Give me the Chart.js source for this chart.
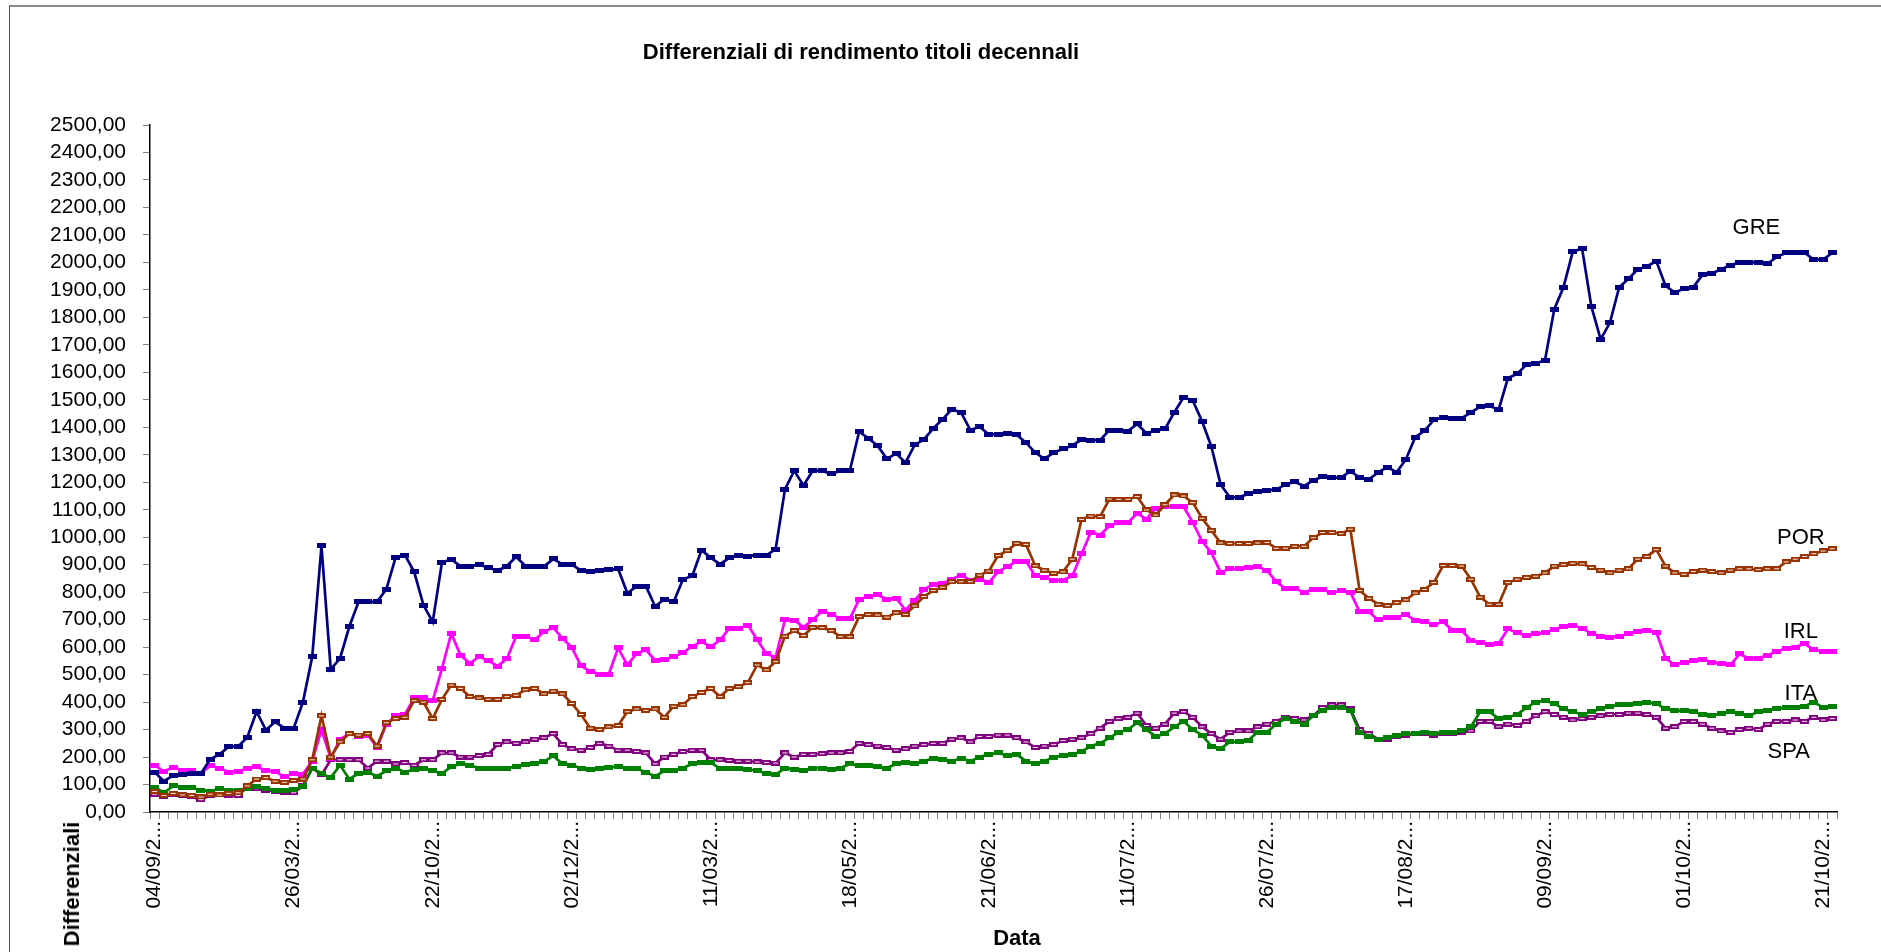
<!DOCTYPE html>
<html>
<head>
<meta charset="utf-8">
<title>Differenziali di rendimento titoli decennali</title>
<script src="https://cdn.jsdelivr.net/npm/chart.js@4.4.1/dist/chart.umd.min.js"></script>
<style>
	html, body { margin: 0; padding: 0; background: #fff; }
	body { width: 1881px; height: 952px; position: relative; overflow: hidden; font-family: Arial, "Liberation Sans", sans-serif; }
	#frame { position: absolute; left: 9px; top: 5px; right: -10px; bottom: -10px; border-top: 2px solid #8c8c8c; border-left: 1px solid #4d4d4d; }
	#graph { position: absolute; left: 0; top: 0; }
	.txt { position: absolute; color: #000; font-weight: bold; font-size: 22px; white-space: nowrap; }
	#title { left: 861px; top: 52px; transform: translate(-50%, -50%); }
	#xtitle { left: 1017px; top: 938px; transform: translate(-50%, -50%); }
	#ytitle { left: 72px; top: 884px; transform: translate(-50%, -50%) rotate(-90deg); }
</style>
</head>
<body>
<div id="frame"></div>
<canvas id="graph" width="1881" height="952"></canvas>
<div class="txt" id="title">Differenziali di rendimento titoli decennali</div>
<div class="txt" id="xtitle">Data</div>
<div class="txt" id="ytitle">Differenziali</div>
<script>
"use strict";

// date labels shown every 15 observations (Excel truncates them)
const tickLabels = [
	"04/09/2...", "26/03/2...", "22/10/2...", "02/12/2...", "11/03/2...", "18/05/2...", "21/06/2...",
	"11/07/2...", "26/07/2...", "17/08/2...", "09/09/2...", "01/10/2...", "21/10/2...",
];
const labelEvery = 15;

const seriesNames = ["GRE", "POR", "IRL", "ITA", "SPA"];

const GRE = [
	145, 112, 133, 137, 140, 140, 192, 210, 238, 238, 272, 366, 298, 328, 305,
	305, 400, 565, 968, 519, 559, 674, 765, 765, 765, 811, 927, 935, 874, 753,
	692, 909, 919, 895, 895, 900, 890, 878, 895, 929, 895, 893, 893, 921, 901,
	901, 878, 874, 880, 881, 885, 796, 822, 822, 748, 775, 765, 847, 859, 953,
	925, 902, 925, 935, 931, 935, 935, 956, 1174, 1242, 1188, 1242, 1242, 1230, 1242,
	1242, 1384, 1360, 1333, 1285, 1305, 1271, 1336, 1356, 1396, 1429, 1465, 1454, 1390, 1402,
	1374, 1374, 1377, 1373, 1344, 1308, 1285, 1308, 1321, 1333, 1356, 1353, 1353, 1390, 1388,
	1386, 1412, 1378, 1388, 1394, 1454, 1509, 1497, 1422, 1330, 1192, 1145, 1145, 1158, 1167,
	1171, 1173, 1192, 1201, 1186, 1207, 1220, 1217, 1217, 1240, 1217, 1211, 1236, 1255, 1236,
	1284, 1364, 1387, 1427, 1437, 1433, 1433, 1453, 1475, 1478, 1464, 1579, 1594, 1628, 1632,
	1644, 1830, 1910, 2040, 2050, 1840, 1720, 1780, 1910, 1940, 1975, 1985, 2005, 1915, 1890,
	1905, 1910, 1955, 1960, 1975, 1990, 2000, 2000, 2000, 1995, 2020, 2035, 2035, 2035, 2010,
	2010, 2035,
];

const POR = [
	75, 60, 68, 62, 60, 55, 65, 62, 68, 70, 95, 120, 125, 112, 108,
	115, 120, 190, 350, 200, 255, 285, 280, 285, 240, 325, 340, 345, 405, 400,
	340, 410, 462, 450, 420, 415, 410, 410, 420, 425, 445, 450, 430, 440, 430,
	395, 355, 305, 300, 310, 315, 365, 375, 370, 375, 345, 385, 390, 420, 435,
	450, 420, 450, 456, 471, 535, 517, 547, 640, 660, 642, 672, 671, 660, 638,
	638, 711, 719, 717, 709, 725, 719, 750, 784, 806, 818, 838, 838, 838, 862,
	877, 933, 951, 978, 974, 896, 880, 869, 874, 920, 1065, 1077, 1075, 1139, 1138,
	1138, 1148, 1099, 1081, 1118, 1154, 1150, 1126, 1069, 1025, 979, 977, 977, 977, 979,
	981, 960, 960, 967, 967, 998, 1017, 1017, 1013, 1029, 806, 778, 756, 751, 762,
	772, 797, 810, 835, 897, 897, 895, 847, 782, 756, 756, 835, 847, 854, 858,
	870, 895, 900, 905, 903, 890, 880, 870, 880, 885, 920, 930, 955, 895, 870,
	865, 875, 880, 875, 870, 880, 885, 885, 882, 885, 885, 910, 920, 930, 940,
	950, 958,
];

const IRL = [
	170, 148, 162, 152, 150, 140, 168, 160, 145, 148, 158, 165, 150, 148, 128,
	140, 138, 185, 300, 195, 265, 285, 275, 280, 235, 320, 350, 355, 415, 415,
	405, 523, 650, 571, 541, 565, 551, 531, 557, 640, 640, 626, 656, 671, 632,
	599, 532, 511, 502, 502, 597, 535, 577, 590, 552, 554, 565, 580, 603, 620,
	601, 626, 668, 668, 680, 628, 575, 564, 699, 698, 673, 699, 731, 720, 703,
	703, 774, 784, 790, 774, 778, 735, 770, 810, 828, 832, 847, 862, 844, 847,
	835, 875, 893, 913, 913, 859, 853, 842, 844, 859, 939, 1018, 1008, 1041, 1053,
	1053, 1087, 1066, 1106, 1111, 1111, 1111, 1054, 985, 944, 872, 885, 885, 891, 893,
	879, 838, 813, 813, 800, 810, 810, 797, 806, 800, 728, 728, 699, 709, 709,
	718, 698, 694, 682, 692, 662, 661, 624, 615, 610, 613, 666, 652, 642, 649,
	652, 665, 675, 680, 668, 650, 640, 635, 640, 648, 658, 662, 655, 560, 535,
	545, 552, 555, 545, 540, 535, 575, 558, 560, 570, 585, 595, 600, 612, 590,
	585, 585,
];

const ITA = [
	90, 70, 95, 90, 88, 80, 75, 85, 80, 78, 85, 92, 85, 80, 78,
	82, 92, 160, 140, 125, 170, 120, 140, 145, 130, 150, 160, 145, 155, 160,
	150, 140, 165, 175, 170, 160, 160, 158, 160, 165, 172, 178, 182, 205, 175,
	170, 160, 155, 160, 162, 165, 160, 158, 145, 130, 150, 150, 160, 175, 180,
	180, 158, 160, 160, 155, 150, 140, 135, 160, 155, 150, 160, 160, 155, 160,
	175, 168, 170, 165, 160, 175, 180, 175, 185, 195, 190, 185, 195, 185, 200,
	210, 215, 205, 210, 185, 175, 185, 200, 205, 210, 220, 240, 250, 270, 290,
	300, 325, 300, 275, 285, 310, 330, 300, 280, 240, 230, 255, 255, 262, 290,
	290, 320, 340, 330, 320, 350, 370, 380, 380, 370, 290, 275, 265, 270, 280,
	285, 285, 290, 285, 290, 290, 295, 310, 365, 365, 340, 345, 355, 380, 400,
	405, 395, 375, 365, 355, 365, 375, 385, 390, 392, 395, 398, 395, 375, 368,
	370, 365, 355, 350, 360, 365, 360, 350, 365, 370, 375, 380, 380, 385, 400,
	380, 385,
];

const SPA = [
	65, 55, 65, 60, 55, 45, 60, 62, 60, 60, 90, 85, 80, 75, 72,
	70, 95, 160, 135, 190, 190, 190, 190, 160, 185, 185, 175, 180, 170, 190,
	190, 215, 215, 200, 200, 205, 210, 245, 255, 250, 255, 265, 270, 285, 245,
	230, 225, 235, 250, 240, 225, 225, 220, 215, 175, 200, 210, 220, 225, 225,
	190, 190, 188, 185, 185, 182, 180, 178, 215, 200, 210, 210, 212, 215, 215,
	220, 250, 245, 240, 235, 225, 230, 240, 245, 250, 250, 265, 270, 255, 275,
	275, 280, 280, 270, 255, 235, 240, 245, 260, 265, 270, 285, 305, 330, 340,
	345, 360, 315, 305, 320, 360, 365, 345, 310, 285, 265, 290, 295, 295, 310,
	320, 330, 345, 340, 335, 350, 380, 390, 390, 375, 300, 285, 265, 265, 275,
	280, 285, 285, 280, 285, 285, 290, 295, 330, 330, 310, 320, 315, 330, 350,
	365, 355, 345, 335, 340, 345, 350, 355, 355, 360, 360, 355, 345, 305, 310,
	330, 330, 320, 305, 295, 290, 300, 305, 300, 320, 330, 330, 335, 330, 345,
	335, 340,
];

// where the series names sit, in (observation index, value) units
const nameAnchors = [
	[172.8, 2127],
	[177.6, 999],
	[177.6, 657],
	[177.6, 431],
	[176.3, 220],
];

const categories = GRE.map((_, i) => (i % labelEvery === 0 ? tickLabels[i / labelEvery] : ""));

const FONT = "Arial, 'Liberation Sans', sans-serif";

// excel "dash" marker, filled or with a light centre
function dash(color, hollow) {
	const c = document.createElement("canvas");
	c.width = 9;
	c.height = 5;
	const ctx = c.getContext("2d");
	ctx.fillStyle = color;
	ctx.fillRect(0, 0, 9, 5);
	if (hollow) {
		ctx.fillStyle = "#f4ece6";
		ctx.fillRect(2, 2, 5, 1);
	}
	return c;
}

function series(label, data, color, hollow) {
	return {
		label,
		data,
		borderColor: color,
		backgroundColor: color,
		borderWidth: 2.7,
		tension: 0,
		pointStyle: dash(color, hollow),
		pointRadius: 3,
	};
}

const seriesNamesPlugin = {
	id: "seriesNames",
	afterDatasetsDraw(chart) {
		const { ctx, scales } = chart;
		ctx.save();
		ctx.font = "22px " + FONT;
		ctx.fillStyle = "#000";
		ctx.textAlign = "center";
		ctx.textBaseline = "middle";
		seriesNames.forEach((name, i) => {
			const [idx, val] = nameAnchors[i];
			ctx.fillText(name, scales.x.getPixelForValue(idx), scales.y.getPixelForValue(val));
		});
		ctx.restore();
	},
};

new Chart(document.querySelector("#graph").getContext("2d"), {
	type: "line",
	data: {
		labels: categories,
		datasets: [
			series("GRE", GRE, "#000080", false),
			series("POR", POR, "#993300", true),
			series("IRL", IRL, "#ff00ff", false),
			series("ITA", ITA, "#008000", false),
			series("SPA", SPA, "#800080", true),
		],
	},
	options: {
		responsive: false,
		animation: false,
		devicePixelRatio: 1,
		layout: { padding: { left: 0, right: 44, top: 125, bottom: 0 } },
		plugins: {
			legend: { display: false },
			tooltip: { enabled: false },
			title: { display: false },
		},
		scales: {
			x: {
				type: "category",
				offset: true,
				grid: {
					offset: true,
					drawOnChartArea: false,
					drawTicks: true,
					tickLength: 7,
					tickColor: "#808080",
				},
				border: { display: true, color: "#000", width: 1.5 },
				ticks: {
					autoSkip: false,
					minRotation: 90,
					maxRotation: 90,
					padding: 2,
					color: "#000",
					font: { family: FONT, size: 21 },
				},
				afterFit(scale) {
					scale.height = 140;
				},
			},
			y: {
				min: 0,
				max: 2500,
				grid: {
					drawOnChartArea: false,
					tickLength: 7,
					tickColor: "#808080",
				},
				border: { display: true, color: "#000", width: 1.5 },
				ticks: {
					stepSize: 100,
					autoSkip: false,
					maxTicksLimit: 30,
					padding: 17,
					color: "#000",
					font: { family: FONT, size: 21 },
					callback: (v) => v.toFixed(2).replace(".", ","),
				},
				afterFit(scale) {
					scale.width = 150;
				},
			},
		},
	},
	plugins: [seriesNamesPlugin],
});
</script>
</body>
</html>
